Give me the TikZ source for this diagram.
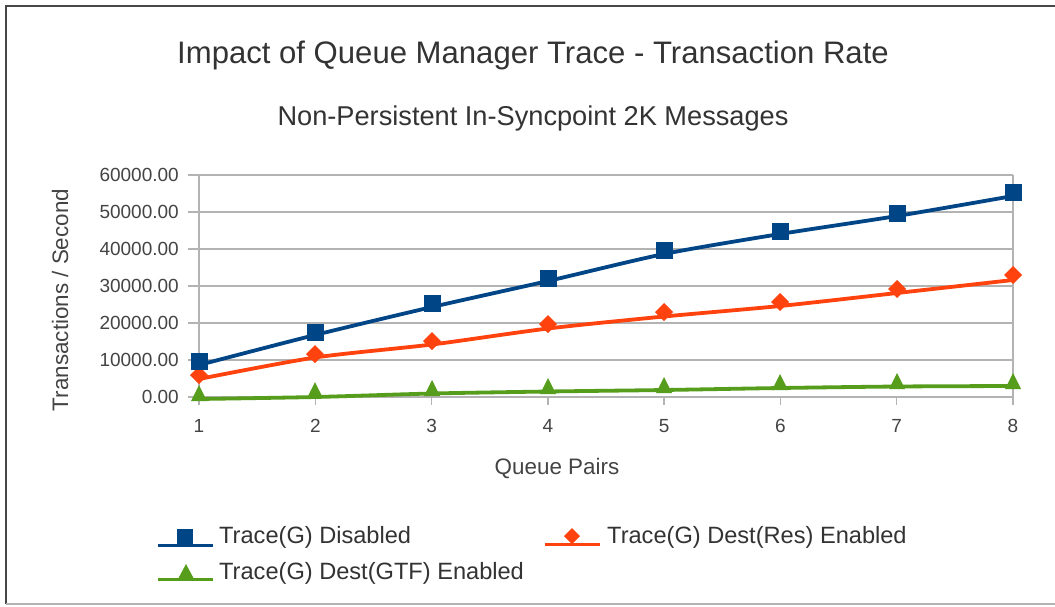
\documentclass[tikz,border=0pt]{standalone}
\usepackage{fontspec}
\setmainfont{Liberation Sans}
\usetikzlibrary{shapes.geometric}
\definecolor{sblue}{HTML}{004586}
\definecolor{sred}{HTML}{FF420E}
\definecolor{sgreen}{HTML}{579D1C}
\definecolor{gridc}{HTML}{B3B3B3}
\definecolor{txt}{HTML}{333333}
\definecolor{lbl}{HTML}{444444}
\begin{document}
\begin{tikzpicture}[x=1pt,y=-1pt,
  gridline/.style={gridc,line width=1.4pt},
  series/.style={line width=3.8pt,line join=round,smooth,tension=0.45},
  ticklbl/.style={text=lbl,font=\fontsize{19}{22}\selectfont,inner sep=0pt},
  axtitle/.style={text=lbl,font=\fontsize{22.4}{26}\selectfont,inner sep=0pt},
  legtxt/.style={text=txt,font=\fontsize{23.6}{28}\selectfont,inner sep=0pt,anchor=west},
  sq/.style={fill=sblue},
  dia/.style={fill=sred},
  tri/.style={fill=sgreen}]
\useasboundingbox (0,0) rectangle (1055,606);
\fill[white] (0,0) rectangle (1055,606);
% frame
\draw[black!72,line width=2pt] (6,604) -- (6,6) -- (1055,6);
\draw[gridc,line width=1.2pt] (6,604) -- (1055,604);
% titles
\node[text=txt,font=\fontsize{31.1}{35}\selectfont,inner sep=0pt] (title) at (533,55) {Impact of Queue Manager Trace - Transaction Rate};
\node[text=txt,font=\fontsize{27.2}{32}\selectfont,inner sep=0pt] (subtitle) at (533,118) {Non-Persistent In-Syncpoint 2K Messages};
% grid
\foreach \i in {0,...,6} \draw[gridline] (188,{397-37*\i}) -- (1013,{397-37*\i});
\draw[gridline] (199,175) -- (199,405);
\draw[gridline] (1013,175) -- (1013,405);
\foreach \k in {2,...,7} \draw[gridline] ({199+(\k-1)*116.286},397) -- ({199+(\k-1)*116.286},405);
% y tick labels
\foreach \i/\v in {0/0.00,1/10000.00,2/20000.00,3/30000.00,4/40000.00,5/50000.00,6/60000.00}
  \node[ticklbl,anchor=east] (y\i) at (179,{397-37*\i}) {\v};
% x tick labels
\foreach \k in {1,...,8}
  \node[ticklbl] (x\k) at ({199+(\k-1)*116.286},426) {\k};
% axis titles
\node[axtitle] (xlabel) at (557,468) {Queue Pairs};
\node[axtitle,rotate=90] (ylabel) at (60,300) {Transactions / Second};
% series lines
\draw[series,sgreen] plot coordinates {(199,399) (315,397) (432,393.5) (548,391.5) (664,390) (780,388) (897,386.5) (1013,386)};
\draw[series,sred] plot coordinates {(199,379) (315,357.5) (432,344.5) (548,328.5) (664,316.5) (780,306) (897,293) (1013,280)};
\draw[series,sblue] plot coordinates {(199,365) (315,335) (432,307) (548,281) (664,254) (780,234) (897,216) (1013,196)};
% green triangles (x, base y)
\foreach \x/\b in {199/401,315/398,432/396,548/394,664/393,780/390,897/389,1013/389}
  \fill[tri] (\x-8,\b) -- (\x,\b-16) -- (\x+8,\b) -- cycle;
% red diamonds
\foreach \x/\y in {199/375,315/354,432/341,548/324,664/312,780/302,897/289,1013/275}
  \fill[dia] (\x-9,\y) -- (\x,\y-9) -- (\x+9,\y) -- (\x,\y+9) -- cycle;
% blue squares
\foreach \x/\y in {199/361,315/332,432/303,548/278,664/250,780/231,897/213,1013/192}
  \fill[sq] (\x-8.5,\y-8.5) rectangle (\x+8.5,\y+8.5);
% legend
\draw[sblue,line width=3pt] (158,545) -- (213,545);
\fill[sq] (177,529) rectangle (193,545);
\node[legtxt] (leg1) at (219,537) {Trace(G) Disabled};
\draw[sred,line width=3pt] (545,544) -- (600,544);
\fill[dia] (564,536) -- (572,528) -- (580,536) -- (572,544) -- cycle;
\node[legtxt] (leg2) at (607,537) {Trace(G) Dest(Res) Enabled};
\draw[sgreen,line width=3pt] (158,579) -- (213,579);
\fill[tri] (178,579) -- (186,564) -- (194,579) -- cycle;
\node[legtxt] (leg3) at (219,573) {Trace(G) Dest(GTF) Enabled};
\end{tikzpicture}
\end{document}
